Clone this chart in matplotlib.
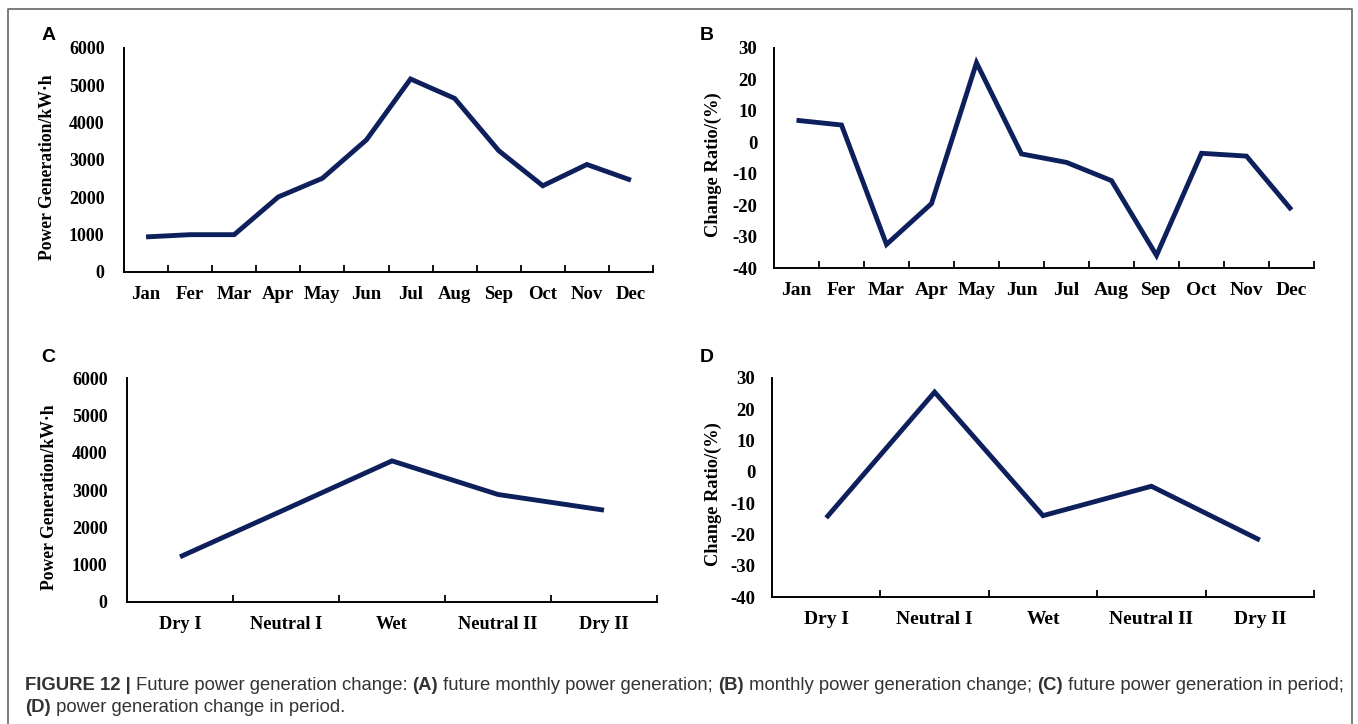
import numpy as np
import matplotlib
matplotlib.use('Agg')
from matplotlib import pyplot as plt
from matplotlib.lines import Line2D

## donnees

months = ['Jan', 'Fer', 'Mar', 'Apr', 'May', 'Jun', 'Jul', 'Aug', 'Sep', 'Oct', 'Nov', 'Dec']
monthly_power = [940, 1000, 1000, 2010, 2510, 3540, 5170, 4650, 3250, 2310, 2880, 2460]
monthly_change = [7, 5.5, -32.5, -19.5, 25.3, -3.7, -6.4, -12.2, -36, -3.5, -4.4, -21.5]

periods = ['Dry I', 'Neutral I', 'Wet', 'Neutral II', 'Dry II']
period_power = [1210, 2490, 3780, 2880, 2460]
period_change = [-14.7, 25.5, -14, -4.6, -21.8]

power_ticks = [0, 1000, 2000, 3000, 4000, 5000, 6000]
change_ticks = [-40, -30, -20, -10, 0, 10, 20, 30]

W, H = 1358, 724
navy = '#0e205c'
serif = 'Liberation Serif'

fig = plt.figure(figsize=(W / 100, H / 100), dpi=100)


def box(l, t, r, b):
    # pixels -> fraction de figure
    return [l / W, 1 - b / H, (r - l) / W, (b - t) / H]


def panel(rect, cats, vals, yticks, ylabel, lab_x, fs_y, fs_x, fs_lab, ypad, letter, letter_xy):
    ax = fig.add_axes(box(*rect))
    x = np.arange(len(cats))
    ax.plot(x, vals, color=navy, lw=3.5, solid_joinstyle='miter', solid_capstyle='butt')
    ax.set_xlim(-0.5, len(cats) - 0.5)
    ax.set_ylim(yticks[0], yticks[-1])
    ax.set_yticks(yticks)
    ax.set_yticklabels([str(v) for v in yticks], fontfamily=serif, fontweight='bold', fontsize=fs_y)
    ax.set_xticks(x + 0.5)
    ax.set_xticklabels([])
    ax.set_xticks(x, minor=True)
    ax.set_xticklabels(cats, minor=True, fontfamily=serif, fontweight='bold', fontsize=fs_x)
    ax.tick_params(axis='x', which='major', direction='in', length=5, width=1.3)
    ax.tick_params(axis='x', which='minor', length=0, pad=10)
    ax.tick_params(axis='y', length=0, pad=ypad)
    for s in ['top', 'right']:
        ax.spines[s].set_visible(False)
    for s in ['left', 'bottom']:
        ax.spines[s].set_linewidth(1.4)
    ax.set_ylabel(ylabel, fontfamily=serif, fontweight='bold', fontsize=fs_lab)
    ax.yaxis.set_label_coords(-lab_x, 0.47)
    fig.text(letter_xy[0] / W, 1 - letter_xy[1] / H, letter, fontfamily='Liberation Sans',
             fontweight='bold', fontsize=14, ha='center', va='center')
    return ax


panel((124, 48, 653, 272), months, monthly_power, power_ticks,
      'Power Generation/kW·h', 0.128, 13, 13.5, 12.7, 14, 'A', (49, 36))
panel((774, 48, 1314, 268), months, monthly_change, change_ticks,
      'Change Ratio/(%)', 0.096, 13.5, 14, 13.3, 12, 'B', (707, 36))
panel((127, 378, 657, 602), periods, period_power, power_ticks,
      'Power Generation/kW·h', 0.13, 13, 13.2, 12.7, 14, 'C', (48, 358))
panel((772, 378, 1314, 597), periods, period_change, change_ticks,
      'Change Ratio/(%)', 0.092, 13.5, 14, 13.2, 12, 'D', (707, 358))

# cadre gris autour de la figure
bx = [8 / W, 8 / W, 1352 / W, 1352 / W]
by = [0, 1 - 9 / H, 1 - 9 / H, 0]
fig.add_artist(Line2D(bx, by, color='#666666', lw=1.2))

# legende de la figure (gras + normal)
cap_fs = 13.3
cap_col = '#333333'
lines = [
    [('FIGURE 12 | ', 'bold'), ('Future power generation change: ', 'normal'),
     ('(A)', 'bold'), (' future monthly power generation; ', 'normal'),
     ('(B)', 'bold'), (' monthly power generation change; ', 'normal'),
     ('(C)', 'bold'), (' future power generation in period;', 'normal')],
    [('(D)', 'bold'), (' power generation change in period.', 'normal')],
]
renderer = fig.canvas.get_renderer()
for i, parts in enumerate(lines):
    xpos = 25
    ypos = 690 + 22 * i
    for txt, wt in parts:
        t = fig.text(xpos / W, 1 - ypos / H, txt, fontfamily='Liberation Sans', fontweight=wt,
                     fontsize=cap_fs, color=cap_col, ha='left', va='baseline')
        bb = t.get_window_extent(renderer=renderer)
        xpos += bb.width

fig.savefig('out.png', dpi=100)
